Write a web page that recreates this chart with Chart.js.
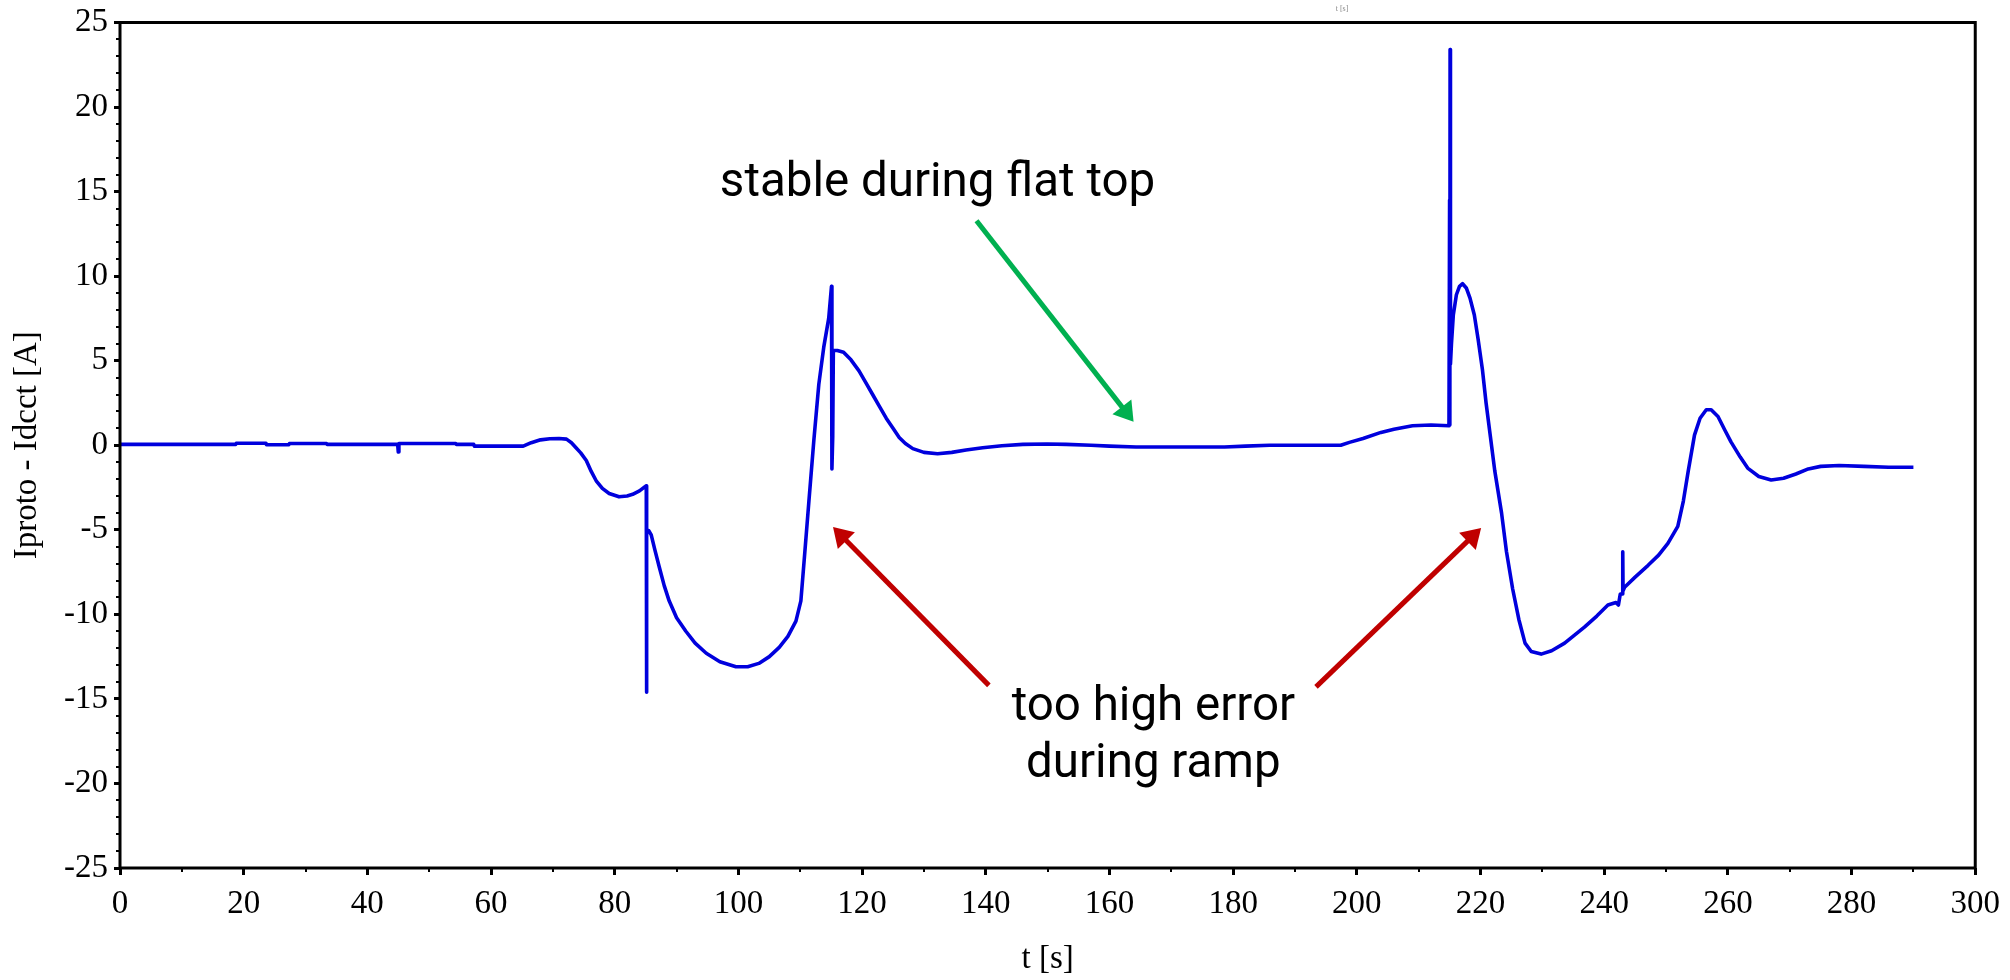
<!DOCTYPE html>
<html><head><meta charset="utf-8">
<script src="https://cdn.jsdelivr.net/npm/chart.js@4.4.1/dist/chart.umd.min.js"></script>
<style>html,body{margin:0;padding:0;background:#fff;overflow:hidden}#wrap{width:2010px;height:980px;position:relative}</style>
</head><body><div id="wrap"><canvas id="c" width="2010" height="980"></canvas></div>
<script>
// ---- data ----
const timeS = [0,10,18.7,18.8,23.6,23.7,27.3,27.4,33.4,33.5,44.9,45.0,45.1,54.3,54.4,57.2,57.3,65.2,66.5,68.0,69.5,71.0,72.2,73.0,73.7,74.5,75.4,76.2,77.0,78.0,79.1,80.7,82.0,82.9,84.0,84.9,85.1,85.12,85.2,85.5,85.9,86.5,87.2,88.0,88.8,90.0,91.5,93.0,94.8,97.0,99.6,101.5,103.3,105.0,106.6,108.0,109.3,110.1,110.7,111.4,112.2,113.0,113.8,114.6,115.05,115.12,115.25,115.35,116.0,117.0,118.2,119.5,120.6,121.7,122.8,123.9,125.0,126.0,127.0,128.2,130.0,132.2,134.5,136.8,139.5,142.6,146.0,149.9,153.0,157.0,160.0,164.3,170.0,178.6,182.0,185.9,192.0,197.4,198.8,201.0,203.9,206.0,209.0,212.0,214.9,215.0,215.04,215.08,215.14,215.3,215.6,216.1,216.6,217.1,217.7,218.3,219.0,219.6,220.3,220.9,221.6,222.3,223.4,224.2,225.2,226.2,227.2,228.2,229.8,231.5,233.6,236.8,238.8,240.6,241.9,242.3,242.6,242.9,243.0,243.05,243.3,245.0,247.1,248.8,250.3,251.9,252.8,253.6,254.6,255.5,256.5,257.3,258.4,259.5,260.5,262.0,263.2,265.0,267.0,269.0,271.0,273.0,275.0,278.0,282.0,286.0,290.0];
const errorA = [0.05,0.05,0.05,0.12,0.12,0.03,0.03,0.1,0.1,0.05,0.05,-0.4,0.1,0.1,0.05,0.05,-0.05,-0.05,0.15,0.32,0.38,0.4,0.36,0.15,-0.13,-0.45,-0.9,-1.55,-2.1,-2.55,-2.85,-3.05,-3.0,-2.9,-2.7,-2.45,-2.4,-14.6,-5.0,-5.05,-5.3,-6.2,-7.2,-8.3,-9.2,-10.2,-11.0,-11.7,-12.3,-12.8,-13.1,-13.1,-12.9,-12.5,-11.95,-11.3,-10.4,-9.2,-6.5,-3.3,0.3,3.6,5.8,7.5,9.4,-1.4,0.5,5.6,5.6,5.5,5.05,4.4,3.7,3.0,2.3,1.6,1.0,0.46,0.1,-0.2,-0.42,-0.5,-0.42,-0.28,-0.15,-0.03,0.05,0.07,0.05,0.0,-0.05,-0.1,-0.1,-0.1,-0.05,0.0,0.0,0.0,0.17,0.4,0.76,0.95,1.15,1.2,1.15,14.5,1.2,23.4,4.8,6.0,7.7,8.9,9.4,9.55,9.3,8.7,7.7,6.3,4.5,2.5,0.5,-1.5,-4.0,-6.3,-8.5,-10.3,-11.7,-12.2,-12.35,-12.15,-11.7,-10.75,-10.1,-9.45,-9.3,-9.45,-8.8,-8.8,-6.3,-8.6,-8.4,-7.8,-7.1,-6.5,-5.8,-4.8,-3.3,-1.5,0.6,1.6,2.1,2.1,1.7,0.9,0.2,-0.7,-1.35,-1.85,-2.05,-1.95,-1.7,-1.4,-1.25,-1.2,-1.25,-1.3,-1.3];
const xTicks = [0,20,40,60,80,100,120,140,160,180,200,220,240,260,280,300];
const yTicks = [-25,-20,-15,-10,-5,0,5,10,15,20,25];
const xMinorStep = 10;
const yMinorStep = 1;
const xTitle = 't [s]';
const yTitle = 'Iproto - Idcct [A]';
const topTinyText = 't [s]';
const noteTexts = [['stable during flat top'], ['too high error', 'during ramp']];
const noteAnchors = [[132.2, 14.73], [167.1, -16.26]];
const arrowFrom = [[138.5, 13.28], [140.5, -14.2], [193.4, -14.29]];
const arrowTo = [[163.9, 1.39], [115.3, -4.84], [220.1, -4.9]];
const arrowColors = ['#00b050', '#c00000', '#c00000'];

const points = timeS.map((t, i) => ({x: t, y: errorA[i]}));
const serif = '"Liberation Serif","Times New Roman",serif';
const sans = 'Roboto,"Noto Sans",sans-serif';

const extras = {
  id: 'extras',
  beforeDraw(chart) {
    const c = chart.ctx; c.save(); c.fillStyle = '#fff'; c.fillRect(0, 0, chart.width, chart.height); c.restore();
  },
  afterDraw(chart) {
    const c = chart.ctx, a = chart.chartArea, xs = chart.scales.x, ys = chart.scales.y;
    c.save();
    c.strokeStyle = '#000'; c.lineWidth = 3;
    c.strokeRect(a.left, a.top, a.right - a.left, a.bottom - a.top);
    c.lineWidth = 2;
    c.beginPath();
    for (let v = xs.min; v <= xs.max; v += xMinorStep) {
      if (xTicks.includes(v)) continue;
      const px = Math.round(xs.getPixelForValue(v));
      c.moveTo(px, a.bottom); c.lineTo(px, a.bottom + 4);
    }
    for (let v = ys.min; v <= ys.max; v += yMinorStep) {
      if (yTicks.includes(v)) continue;
      const py = Math.round(ys.getPixelForValue(v));
      c.moveTo(a.left, py); c.lineTo(a.left - 4, py);
    }
    c.stroke();
    arrowFrom.forEach((f, i) => {
      const x1 = xs.getPixelForValue(f[0]), y1 = ys.getPixelForValue(f[1]);
      const x2 = xs.getPixelForValue(arrowTo[i][0]), y2 = ys.getPixelForValue(arrowTo[i][1]);
      const dx = x2 - x1, dy = y2 - y1, L = Math.hypot(dx, dy), ux = dx / L, uy = dy / L;
      const hl = 19, hw = 12;
      c.strokeStyle = arrowColors[i]; c.fillStyle = arrowColors[i]; c.lineWidth = 5; c.lineCap = 'butt';
      c.beginPath(); c.moveTo(x1, y1); c.lineTo(x2 - ux * (hl - 2), y2 - uy * (hl - 2)); c.stroke();
      const bx = x2 - ux * hl, by = y2 - uy * hl;
      c.beginPath(); c.moveTo(x2, y2); c.lineTo(bx - uy * hw, by + ux * hw); c.lineTo(bx + uy * hw, by - ux * hw); c.closePath(); c.fill();
    });
    c.fillStyle = '#000'; c.font = '47.5px ' + sans; c.textAlign = 'center'; c.textBaseline = 'alphabetic';
    noteTexts.forEach((lines, i) => {
      const px = xs.getPixelForValue(noteAnchors[i][0]), py = ys.getPixelForValue(noteAnchors[i][1]);
      lines.forEach((s, k) => c.fillText(s, px, py + k * 57));
    });
    c.fillStyle = '#888'; c.font = '8px ' + serif;
    c.fillText(topTinyText, xs.getPixelForValue(197.6), a.top - 12);
    c.restore();
  }
};

new Chart(document.getElementById('c'), {
  type: 'line',
  data: { datasets: [{ data: points, borderColor: '#0000dd', borderWidth: 3.6, pointRadius: 0, tension: 0, fill: false, borderJoinStyle: 'round' }] },
  options: {
    responsive: false, animation: false, devicePixelRatio: 1,
    layout: { padding: { top: 21, right: 32, left: 0, bottom: 0 } },
    plugins: { legend: { display: false }, tooltip: { enabled: false } },
    scales: {
      x: {
        type: 'linear', min: 0, max: 300,
        afterBuildTicks: s => { s.ticks = xTicks.map(v => ({ value: v })); },
        afterFit: s => { s.height = 112; },
        grid: { display: true, drawOnChartArea: false, drawTicks: true, tickLength: 7, tickWidth: 3, tickColor: '#000' },
        border: { display: false },
        ticks: { color: '#000', font: { family: serif, size: 33 }, padding: 10, maxRotation: 0, autoSkip: false },
        title: { display: true, text: xTitle, color: '#000', font: { family: serif, size: 33 }, padding: { top: 0, bottom: 1 } }
      },
      y: {
        type: 'linear', min: -25, max: 25,
        afterBuildTicks: s => { s.ticks = yTicks.map(v => ({ value: v })); },
        afterFit: s => { s.width = 120; },
        grid: { display: true, drawOnChartArea: false, drawTicks: true, tickLength: 6, tickWidth: 3, tickColor: '#000' },
        border: { display: false },
        ticks: { color: '#000', font: { family: serif, size: 33, lineHeight: 1 }, padding: 6, autoSkip: false },
        title: { display: true, text: yTitle, color: '#000', font: { family: serif, size: 33 }, padding: { top: 8, bottom: 0 } }
      }
    }
  },
  plugins: [extras]
});
</script></body></html>
